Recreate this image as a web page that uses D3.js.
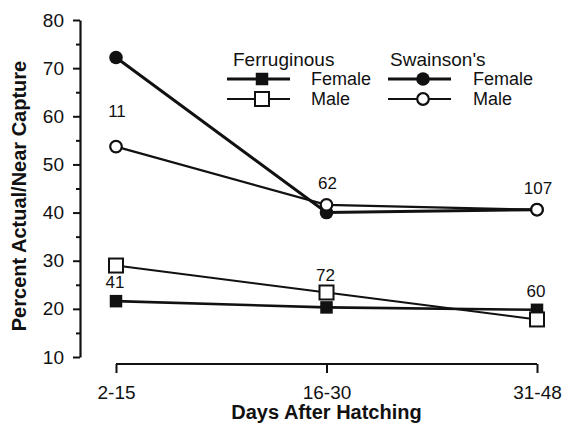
<!DOCTYPE html>
<html>
<head>
<meta charset="utf-8">
<script src="https://cdn.jsdelivr.net/npm/d3@7"></script>
<style>
  body { margin: 0; background: #fff; }
  text { font-family: "Liberation Sans", Arial, Helvetica, sans-serif; fill: #111; }
</style>
</head>
<body>
<div id="chart"></div>
<script>
// Percent actual/near capture by nestling age, two hawk species
const periods = ["2-15", "16-30", "31-48"];
const yTicks = [10, 20, 30, 40, 50, 60, 70, 80];

const swainsonFemale = [72.2, 40.0, 40.6];
const swainsonMale = [53.7, 41.6, 40.6];
const ferrugFemale = [21.6, 20.3, 19.8];
const ferrugMale = [29.0, 23.4, 17.8];

// sample sizes written on the chart
const swainsonN = ["11", "62", "107"];
const ferrugN = ["41", "72", "60"];

const width = 572, height = 426;
const ink = "#111";

const svg = d3.select("#chart").append("svg")
    .attr("width", width)
    .attr("height", height);

const x = d3.scalePoint().domain(periods).range([116, 537]);
const y = d3.scaleLinear().domain([10, 80]).range([357, 20]);

// ---- y axis (major at 10s, minor at 5s)
const yAxis = svg.append("g")
    .attr("transform", "translate(80,0)")
    .call(d3.axisLeft(y).tickValues(d3.range(10, 81, 5))
        .tickSize(7).tickSizeOuter(0).tickPadding(9)
        .tickFormat(d => yTicks.includes(d) ? d : ""));
yAxis.select(".domain").attr("stroke", ink).attr("stroke-width", 2.2);
yAxis.selectAll(".tick line").attr("stroke", ink).attr("stroke-width", 2)
    .attr("x2", d => yTicks.includes(d) ? -7 : -4);
yAxis.selectAll(".tick text").style("font-size", "19px").attr("fill", ink);

// ---- x axis (detached line spanning the categories)
const xAxis = svg.append("g")
    .attr("transform", "translate(0,364)")
    .call(d3.axisBottom(x).tickSize(9).tickSizeOuter(0).tickPadding(0));
xAxis.select(".domain").attr("stroke", ink).attr("stroke-width", 2.2)
    .attr("d", `M${x(periods[0])},0H${x(periods[2])}`);
xAxis.selectAll(".tick line").attr("stroke", ink).attr("stroke-width", 2);
xAxis.selectAll(".tick text").style("font-size", "19px").attr("fill", ink)
    .attr("y", 35).attr("dy", 0);

// ---- axis titles
svg.append("text")
    .attr("x", x(periods[1])).attr("y", 419)
    .attr("text-anchor", "middle")
    .style("font-size", "20px").style("font-weight", "bold")
    .text("Days After Hatching");

svg.append("text")
    .attr("transform", "translate(26,196) rotate(-90)")
    .attr("text-anchor", "middle")
    .style("font-size", "20px").style("font-weight", "bold")
    .text("Percent Actual/Near Capture");

// ---- series
const series = [
    { values: swainsonFemale, shape: "circle", filled: true, lw: 3 },
    { values: ferrugFemale, shape: "square", filled: true, lw: 2.6 },
    { values: swainsonMale, shape: "circle", filled: false, lw: 2.2 },
    { values: ferrugMale, shape: "square", filled: false, lw: 2 }
];

const line = d3.line().x((d, i) => x(periods[i])).y(d => y(d));

function drawMarker(g, shape, filled, cx, cy) {
    if (shape === "circle") {
        g.append("circle")
            .attr("cx", cx).attr("cy", cy)
            .attr("r", filled ? 6.8 : 5.8)
            .attr("fill", filled ? ink : "#fff")
            .attr("stroke", ink).attr("stroke-width", filled ? 0 : 2.2);
    } else {
        const s = filled ? 12.5 : 14;
        g.append("rect")
            .attr("x", cx - s / 2).attr("y", cy - s / 2)
            .attr("width", s).attr("height", s)
            .attr("fill", filled ? ink : "#fff")
            .attr("stroke", ink).attr("stroke-width", filled ? 0 : 2);
    }
}

series.forEach(s => {
    const g = svg.append("g");
    g.append("path")
        .attr("d", line(s.values))
        .attr("fill", "none")
        .attr("stroke", ink)
        .attr("stroke-width", s.lw);
    s.values.forEach((v, i) => drawMarker(g, s.shape, s.filled, x(periods[i]), y(v)));
});

// ---- sample sizes
const swOffset = [-36, -22, -22];
swainsonN.forEach((n, i) => {
    const base = i === 0 ? y(swainsonMale[i]) : Math.min(y(swainsonMale[i]), y(swainsonFemale[i]));
    svg.append("text")
        .attr("x", x(periods[i]) + 1).attr("y", base + swOffset[i])
        .attr("dy", "0.36em")
        .attr("text-anchor", "middle")
        .style("font-size", "17px")
        .text(n);
});

const feOffset = [16, -17.5, -18.5];
ferrugN.forEach((n, i) => {
    const base = i === 2 ? y(ferrugFemale[i]) : y(ferrugMale[i]);
    svg.append("text")
        .attr("x", x(periods[i]) - 1).attr("y", base + feOffset[i])
        .attr("dy", "0.36em")
        .attr("text-anchor", "middle")
        .style("font-size", "17px")
        .text(n);
});

// ---- legend
const legend = svg.append("g");
const groups = [
    { title: "Ferruginous", shape: "square", x0: 227, tx: 233, lx: 311 },
    { title: "Swainson's", shape: "circle", x0: 388, tx: 390, lx: 473 }
];
groups.forEach(gr => {
    legend.append("text")
        .attr("x", gr.tx).attr("y", 66)
        .style("font-size", "19px")
        .text(gr.title);
    [{ label: "Female", filled: true, yy: 79, lw: 3 },
     { label: "Male", filled: false, yy: 99, lw: 2 }].forEach(r => {
        legend.append("line")
            .attr("x1", gr.x0).attr("x2", gr.x0 + 63)
            .attr("y1", r.yy).attr("y2", r.yy)
            .attr("stroke", ink).attr("stroke-width", r.lw);
        drawMarker(legend, gr.shape, r.filled, gr.x0 + 35, r.yy);
        legend.append("text")
            .attr("x", gr.lx).attr("y", r.yy)
            .attr("dy", "0.36em")
            .style("font-size", "18px")
            .text(r.label);
    });
});
</script>
</body>
</html>
